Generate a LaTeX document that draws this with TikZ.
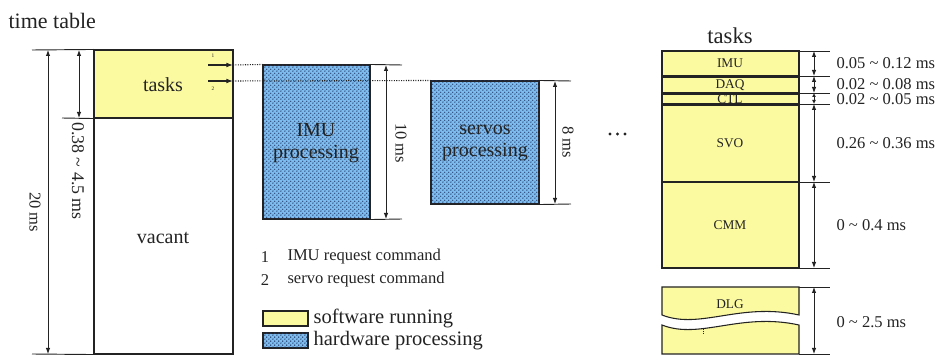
\documentclass[tikz,border=0pt]{standalone}
\usepackage{fontspec}
\setmainfont{Liberation Serif}
\usetikzlibrary{arrows.meta,patterns,fit}
\definecolor{swy}{RGB}{252,250,160}
\definecolor{hwb}{RGB}{125,188,238}
\definecolor{dotc}{RGB}{30,50,95}
\definecolor{ink}{RGB}{35,35,35}
\newcommand\myfs[1]{\fontsize{#1}{1.2\dimexpr#1pt\relax}\selectfont}
\pgfdeclarepatternformonly{hwdots}{\pgfqpoint{0pt}{0pt}}{\pgfqpoint{3.2pt}{3.2pt}}{\pgfqpoint{3.2pt}{3.2pt}}{%
  \pgfpathcircle{\pgfqpoint{0.8pt}{0.8pt}}{0.62pt}%
  \pgfpathcircle{\pgfqpoint{2.4pt}{2.4pt}}{0.62pt}%
  \pgfusepath{fill}}
\begin{document}
\begin{tikzpicture}[x=0.75pt,y=-0.75pt,line width=0.8pt,color=ink,
  box/.style={draw,inner sep=0pt},
  sw/.style={box,fill=swy},
  hw/.style={box,fill=hwb,postaction={pattern=hwdots,pattern color=dotc}},
  dim/.style={{Latex[length=4.5pt,width=3.4pt]}-{Latex[length=4.5pt,width=3.4pt]},line width=0.7pt},
  ext/.style={line width=0.7pt},
  dotl/.style={densely dotted,line width=0.8pt},
  req/.style={-{Latex[length=5pt,width=3.6pt]},line width=0.8pt},
  lbl/.style={inner sep=0pt,font=\myfs{15}},
  big/.style={inner sep=0pt,font=\myfs{15}},
  rot/.style={inner sep=0pt,rotate=-90,font=\myfs{12.4}},
  leg/.style={inner sep=0pt,anchor=west,font=\myfs{12.4}},
  legb/.style={inner sep=0pt,anchor=west,font=\myfs{15.4}},
  rlab/.style={inner sep=0pt,anchor=west,font=\myfs{12.4}},
  ilab/.style={inner sep=0pt,font=\myfs{10}},
  tiny/.style={inner sep=0pt,font=\myfs{4}}]
\useasboundingbox (0,0) rectangle (940,356);

% title
\node[inner sep=0pt,anchor=west,font=\myfs{16.5}] (title) at (8,21) {time table};

% ---------- left time table ----------
\node[sw,fit={(94,50)(233,118)}] (tasks) {};
\node[box,fit={(94,118)(233,354)}] (vacant) {};
\node[lbl] (taskst) at (163,85) {tasks};
\node[lbl] (vacantt) at (163,238) {vacant};

\coordinate (tl) at (32,50);
\coordinate (bl) at (32,354);
\coordinate (ml) at (62,118);
\draw[ext] (tl) -- (tasks.north west);
\draw[ext] (bl) -- (vacant.south west);
\draw[ext] (ml) -- (tasks.south west);

\coordinate (a20t) at (48,50);
\coordinate (a20b) at (48,354);
\draw[dim] (a20t) -- (a20b);
\node[rot] (l20) at (35,212) {20 ms};

\coordinate (a38t) at (79,50);
\coordinate (a38b) at (79,118);
\draw[dim] (a38t) -- (a38b);
\node[rot,font=\myfs{13.4}] (l38) at (78,171) {0.38 \textasciitilde{} 4.5 ms};

% request commands
\coordinate (r1s) at (208,65);
\coordinate (r1e) at (233,65);
\coordinate (r2s) at (208,81);
\coordinate (r2e) at (233,81);
\draw[req] (r1s) -- (r1e);
\draw[req] (r2s) -- (r2e);
\node[tiny] (n1) at (213,56) {1};
\node[tiny] (n2) at (213,89) {2};

% ---------- hardware processing ----------
\node[hw,fit={(263,65)(370,219)}] (imu) {};
\node[big,align=center] (imut) at (316,143) {IMU\\[-1pt]processing};
\node[hw,fit={(431,81)(539,204)}] (servo) {};
\node[big,align=center] (servot) at (485,143) {servos\\[-1pt]processing};

\draw[dotl] (r1e) -- (imu.north west);
\draw[dotl] (r2e) -- (servo.north west);

\coordinate (it) at (402,65);
\coordinate (ib) at (402,219);
\draw[ext] (imu.north east) -- (it);
\draw[ext] (imu.south east) -- (ib);
\coordinate (iat) at (386,65);
\coordinate (iab) at (386,219);
\draw[dim] (iat) -- (iab);
\node[rot] (l10) at (401,143) {10 ms};

\coordinate (st) at (571,81);
\coordinate (sb) at (571,204);
\draw[ext] (servo.north east) -- (st);
\draw[ext] (servo.south east) -- (sb);
\coordinate (sat) at (555,81);
\coordinate (sab) at (555,204);
\draw[dim] (sat) -- (sab);
\node[rot] (l8) at (568,142) {8 ms};

% ellipsis
\fill (610,134) circle (1.3pt) (617.5,134) circle (1.3pt) (625,134) circle (1.3pt);

% ---------- legend ----------
\node[inner sep=0pt,font=\myfs{12.4}] (k1) at (265,257) {1};
\node[leg] (k1t) at (287,257) {IMU request command};
\node[inner sep=0pt,font=\myfs{12.4}] (k2) at (265,280) {2};
\node[leg] (k2t) at (287,280) {servo request command};
\node[sw,line width=1pt,fit={(263,311)(308,326)}] (ly) {};
\node[legb] (lyt) at (313,318) {software running};
\node[hw,line width=1pt,fit={(263,333)(308,348)}] (lb) {};
\node[legb] (lbt) at (313,341) {hardware processing};

% ---------- tasks stack ----------
\node[inner sep=0pt,font=\myfs{17}] (ttitle) at (730,36) {tasks};
\node[sw,fit={(662,51)(799,76)}] (timu) {};
\node[sw,fit={(662,77.5)(799,92.5)}] (tdaq) {};
\node[sw,fit={(662,94)(799,103.5)}] (tctl) {};
\node[sw,fit={(662,105)(799,182)}] (tsvo) {};
\node[sw,fit={(662,182)(799,268)}] (tcmm) {};
\node[ilab] at (730,63) {IMU};
\node[ilab] at (730,85) {DAQ};
\node[ilab] at (730,99) {CTL};
\node[ilab] at (730,143) {SVO};
\node[ilab] at (730,225) {CMM};

% DLG broken box
\draw[fill=swy] (662,287) -- (799,287) -- (799,315)
  .. controls (740,302) and (700,330) .. (662,315) -- cycle;
\draw[fill=swy] (662,325) .. controls (700,340) and (740,312) .. (799,325)
  -- (799,354) -- (662,354) -- cycle;
\node[ilab] (tdlg) at (730,304) {DLG};
\draw[densely dotted,line width=0.4pt] (703,329) -- (703,334);

% extension lines and dimensions
\foreach \y/\n in {51/e1,76/e2,93/e3,104/e4,182/e5,268/e6,287/e7,354/e8}{
  \coordinate (\n a) at (799,\y);
  \coordinate (\n b) at (830,\y);
  \coordinate (\n m) at (814,\y);
  \draw[ext] (\n a) -- (\n b);
}
\draw[dim] (e1m) -- (e2m);
\draw[dim] (e2m) -- (e3m);
\draw[{Latex[length=3pt,width=3pt]}-{Latex[length=3pt,width=3pt]},line width=0.7pt] (e3m) -- (e4m);
\draw[dim] (e4m) -- (e5m);
\draw[dim] (e5m) -- (e6m);
\draw[dim] (e7m) -- (e8m);

\node[rlab] at (836,63) {0.05 \textasciitilde{} 0.12 ms};
\node[rlab] at (836,84) {0.02 \textasciitilde{} 0.08 ms};
\node[rlab] at (836,99) {0.02 \textasciitilde{} 0.05 ms};
\node[rlab] at (836,143) {0.26 \textasciitilde{} 0.36 ms};
\node[rlab] at (836,225) {0 \textasciitilde{} 0.4 ms};
\node[rlab] at (836,322) {0 \textasciitilde{} 2.5 ms};
\end{tikzpicture}
\end{document}
